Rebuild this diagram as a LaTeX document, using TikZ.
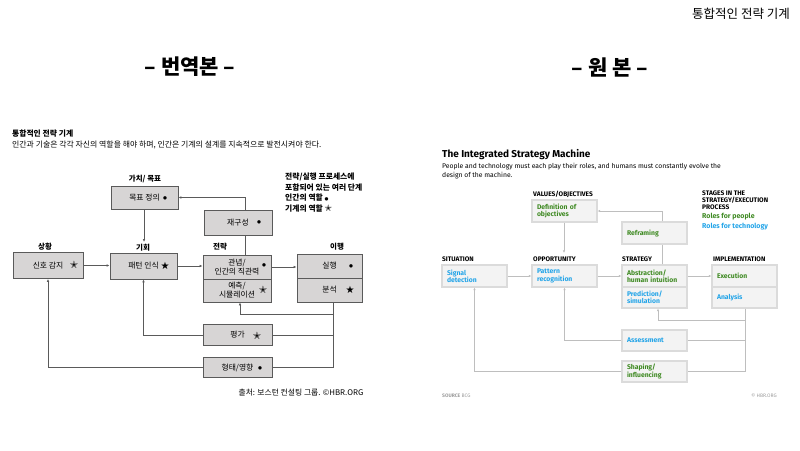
\documentclass[tikz,border=0pt]{standalone}
\usepackage{fontspec}
\setmainfont{Fira Sans}
\newfontfamily\kr{Noto Sans CJK KR}
\newfontfamily\sym{DejaVu Sans}
\usetikzlibrary{arrows.meta}
\definecolor{kfill}{HTML}{D7D5D5}
\definecolor{kline}{HTML}{5A5A5A}
\definecolor{efill}{HTML}{F3F3F3}
\definecolor{eline}{HTML}{DBDBDB}
\definecolor{elink}{HTML}{BEBEBE}
\definecolor{egreen}{HTML}{3F8A23}
\definecolor{eblue}{HTML}{22A4E8}
\definecolor{egray}{HTML}{9C9C9C}

\begin{document}
\begin{tikzpicture}
[x=1pt, y=-1pt,
kbox/.style={rectangle, draw=kline, fill=kfill, line width=0.8pt, inner sep=0pt, align=center, font=\kr\fontsize{7.8}{9}\selectfont},
klink/.style={draw=kline, line width=0.8pt},
karrow/.style={klink, -{Latex[length=3pt,width=2.6pt]}},
klabel/.style={inner sep=0pt, font=\kr\bfseries\fontsize{7.5}{9}\selectfont},
hman/.style={inner sep=0pt, font=\sym\fontsize{4.5}{5}\selectfont},
hbot/.style={inner sep=0pt, font=\sym\fontsize{10}{10}\selectfont},
ebox/.style={rectangle, draw=eline, fill=efill, line width=1.2pt, minimum width=65pt, minimum height=22pt, text width=55pt, inner xsep=5pt, inner ysep=0pt, align=left, font=\bfseries\fontsize{6.8}{7.3}\selectfont},
elink/.style={draw=elink, line width=0.8pt},
earrow/.style={elink, -{Latex[length=2.6pt,width=2.4pt]}},
elabel/.style={anchor=west, inner sep=0pt, font=\bfseries\fontsize{6.6}{7}\selectfont}
]
\useasboundingbox (0,0) rectangle (800,450);

\node[anchor=east, inner sep=0pt, font=\kr\fontsize{12.5}{14}\selectfont] (title) at (790,14) {통합적인 전략 기계};
\node[inner sep=0pt, font=\kr\bfseries\fontsize{21}{24}\selectfont] (headK) at (190,67) {– 번역본 –};
\node[inner sep=0pt, font=\kr\bfseries\fontsize{21}{24}\selectfont] (headE) at (610,67) {– 원 본 –};

% translated version
\node[anchor=west, inner sep=0pt, font=\kr\bfseries\fontsize{7.8}{8}\selectfont] (titleK) at (12,134) {통합적인 전략 기계};
\node[anchor=west, inner sep=0pt, font=\kr\fontsize{7.9}{8}\selectfont] (subK) at (12,145) {인간과 기술은 각각 자신의 역할을 해야 하며, 인간은 기계의 설계를 지속적으로 발전시켜야 한다.};
\node[anchor=north west, inner sep=0pt, align=left, font=\kr\bfseries\fontsize{7.8}{10.5}\selectfont] (keyK) at (285,173)
  {전략/실행 프로세스에\\포함되어 있는 여러 단계\\인간의 역할 {\sym\fontsize{4.5}{5}\selectfont ●}\\기계의 역할 {\sym\fontsize{9}{9}\selectfont ✭}};

\node[klabel] (valK) at (145,179) {가치/ 목표};
\node[klabel] (sitK) at (45,247) {상황};
\node[klabel] (oppK) at (143,248) {기회};
\node[klabel] (strK) at (220,247) {전략};
\node[klabel] (impK) at (337,247) {이행};

\node[kbox, minimum width=67pt, minimum height=23pt] (goalK) at (144.5,197.5) {목표 정의};
\node[kbox, minimum width=68pt, minimum height=25pt] (reframeK) at (238,222.5) {재구성};
\node[kbox, minimum width=70pt, minimum height=26pt] (signalK) at (48,265.5) {신호 감지};
\node[kbox, minimum width=67pt, minimum height=26pt] (patternK) at (143.5,266) {패턴 인식};
\node[kbox, minimum width=68pt, minimum height=24pt] (stratAK) at (237,267) {관념/\\인간의 직관력};
\node[kbox, minimum width=68pt, minimum height=23pt] (stratBK) at (237,290.5) {예측/\\시뮬레이션};
\node[kbox, minimum width=65pt, minimum height=24pt] (implAK) at (329.5,266) {실행};
\node[kbox, minimum width=65pt, minimum height=24pt] (implBK) at (329.5,290) {분석};
\node[kbox, minimum width=69pt, minimum height=21pt] (assessK) at (237.5,335) {평가};
\node[kbox, minimum width=69pt, minimum height=20pt] (shapeK) at (237.5,367.5) {형태/영향};

\node[hman] (goalKm) at (165,198) {●};
\node[hbot] (signalKm) at (74,265) {✭};
\node[hbot] (patternKm) at (165,266) {★};
\node[hman] (reframeKm) at (259,222) {●};
\node[hman] (stratAKm) at (264,265) {●};
\node[hbot] (stratBKm) at (263,290) {✭};
\node[hman] (implAKm) at (351,266) {●};
\node[hbot] (implBKm) at (350,290) {★};
\node[hbot] (assessKm) at (257,336) {✭};
\node[hman] (shapeKm) at (260,368) {●};

\coordinate (topK) at (245,198);
\coordinate (downK) at (333,368);
\coordinate (backK) at (240,314);
\coordinate (inK) at (144,242);

\draw[karrow] (signalK.east) -- (signalK.east -| patternK.west);
\draw[karrow] (patternK.east) -- (patternK.east -| stratAK.west);
\draw[karrow] (stratAK.east) -- (stratAK.east -| implAK.west);
\draw[karrow] (goalK.south -| inK) -- (inK);
\draw[klink] (stratAK.north -| topK) -- (reframeK.south -| topK);
\draw[karrow] (reframeK.north -| topK) |- (goalK.east);
\draw[klink] (implBK.south -| downK) |- (shapeK.east);
\draw[karrow] (backK -| downK) -- (backK) -- (backK |- stratBK.south);
\draw[klink] (assessK.east) -- (assessK.east -| downK);
\draw[karrow] (assessK.west) -| (patternK.south);
\draw[karrow] (shapeK.west) -| (signalK.south);

\node[inner sep=0pt, font=\kr\fontsize{7.8}{8}\selectfont] (srcK) at (301,393) {출처: 보스턴 컨설팅 그룹. ©HBR.ORG};

% original version
\node[anchor=west, inner sep=0pt, font=\bfseries\fontsize{10}{11}\selectfont] (titleE) at (442,155) {The Integrated Strategy Machine};
\node[anchor=north west, inner sep=0pt, align=left, font=\fontsize{6.8}{9}\selectfont] (subE) at (442,162.5)
  {People and technology must each play their roles, and humans must constantly evolve the\\design of the machine.};
\node[anchor=north west, inner sep=0pt, align=left, font=\bfseries\fontsize{6.6}{7}\selectfont] (keyE) at (702,190.5) {STAGES IN THE\\STRATEGY/EXECUTION\\PROCESS};
\node[elabel, text=egreen, font=\bfseries\fontsize{7}{7}\selectfont] (peopleE) at (702,217) {Roles for people};
\node[elabel, text=eblue, font=\bfseries\fontsize{7}{7}\selectfont] (techE) at (702,227) {Roles for technology};

\node[elabel] (valE) at (533,194) {VALUES/OBJECTIVES};
\node[elabel] (sitE) at (442,259) {SITUATION};
\node[elabel] (oppE) at (533,259) {OPPORTUNITY};
\node[elabel] (strE) at (622,259) {STRATEGY};
\node[elabel] (impE) at (713,259) {IMPLEMENTATION};

\node[ebox, text=egreen] (goalE) at (564.5,211) {Definition of\\objectives};
\node[ebox, text=egreen] (reframeE) at (654.5,233) {Reframing};
\node[ebox, text=eblue] (signalE) at (474.5,276) {Signal\\detection};
\node[ebox, text=eblue] (patternE) at (564.5,276) {Pattern\\recognition};
\node[ebox, text=egreen] (stratAE) at (654.5,276) {Abstraction/\\human intuition};
\node[ebox, text=eblue, minimum height=21pt] (stratBE) at (654.5,297.5) {Prediction/\\simulation};
\node[ebox, text=egreen] (implAE) at (744.5,276) {Execution};
\node[ebox, text=eblue, minimum height=21pt] (implBE) at (744.5,297.5) {Analysis};
\node[ebox, text=eblue, minimum height=21pt] (assessE) at (654.5,340.5) {Assessment};
\node[ebox, text=egreen, minimum height=21pt] (shapeE) at (654.5,371.5) {Shaping/\\influencing};

\coordinate (topE) at (662,211);
\coordinate (downE) at (745,372);
\coordinate (backE) at (658,320);
\coordinate (inE) at (564,253);

\draw[earrow] (signalE.east) -- (signalE.east -| patternE.west);
\draw[earrow] (patternE.east) -- (patternE.east -| stratAE.west);
\draw[earrow] (stratAE.east) -- (stratAE.east -| implAE.west);
\draw[earrow] (goalE.south -| inE) -- (inE);
\draw[elink] (stratAE.north -| topE) -- (reframeE.south -| topE);
\draw[earrow] (reframeE.north -| topE) |- (goalE.east);
\draw[elink] (implBE.south -| downE) |- (shapeE.east);
\draw[earrow] (backE -| downE) -- (backE) -- (backE |- stratBE.south);
\draw[elink] (assessE.east) -- (assessE.east -| downE);
\draw[earrow] (assessE.west) -| (patternE.south);
\draw[earrow] (shapeE.west) -| (signalE.south);

\node[elabel, text=egray, font=\fontsize{5}{5}\selectfont] (srcE) at (442,396) {\textbf{SOURCE} BCG};
\node[anchor=east, inner sep=0pt, text=egray, font=\fontsize{5}{5}\selectfont] (hbrE) at (777,396) {© HBR.ORG};
\end{tikzpicture}
\end{document}
